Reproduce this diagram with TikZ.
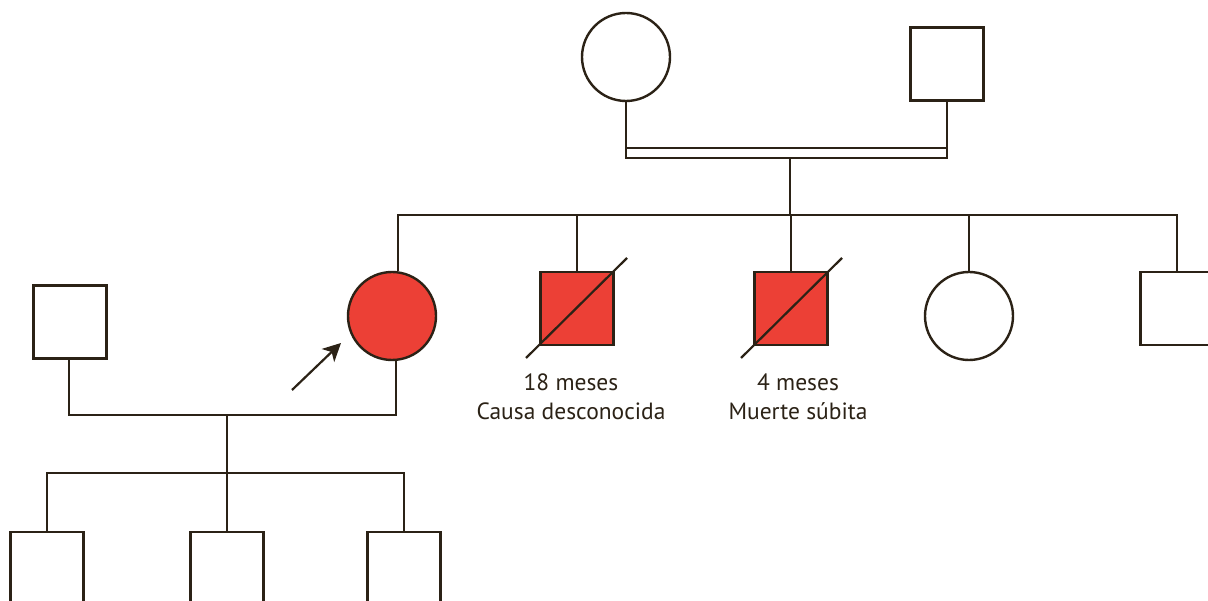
\documentclass[tikz,border=0pt]{standalone}
\usepackage{fontspec}
\setmainfont{PT Sans}
\usetikzlibrary{arrows.meta}
\definecolor{ink}{RGB}{43,34,22}
\definecolor{aff}{RGB}{236,64,54}
\begin{document}
\begin{tikzpicture}[x=1pt,y=-1pt,
  line width=2.4pt, color=ink,
  fem/.style={circle, draw=ink, line width=2.4pt, minimum size=88pt, inner sep=0pt, fill=white},
  mal/.style={rectangle, draw=ink, line width=2.4pt, minimum size=73pt, inner sep=0pt, fill=white},
  affected/.style={fill=aff},
  lbl/.style={font=\fontsize{23.5}{29}\selectfont, align=center, text=ink, inner sep=0pt},
  deceased/.style={line width=2.2pt}
]
\useasboundingbox (0,0) rectangle (1208,601);
\begin{scope}
\clip (0,0) rectangle (1208,601);
% generation I
\node[fem] (gm) at (626,57) {};
\node[mal] (gf) at (947,64) {};
\coordinate (cl) at (626,148);
\coordinate (cr) at (947,158);
\draw (gm.south) -- (gm.south |- cr) -- (cr) -- (gf.south |- cl) -- (gf.south);
\draw (gm.south |- cl) -- (cr |- cl);
\coordinate (drop) at (790,158);
\coordinate (sib) at (790,215);
\draw (drop) -- (sib);
% generation II
\node[fem, affected] (pro) at (392,316) {};
\node[mal, affected] (s1) at (577,308.5) {};
\node[mal, affected] (s2) at (791,308.5) {};
\node[fem] (s3) at (969,316) {};
\node[mal] (s4) at (1177,308.5) {};
\coordinate (sl) at (398,215);
\coordinate (sr) at (1177,215);
\draw (pro.north -| sl) -- (sl) -- (sr) -- (s4.north);
\foreach \n in {s1,s2,s3} \draw (\n.north) -- (\n.north |- sib);
% deceased slashes
\coordinate (d1a) at (526,358); \coordinate (d1b) at (627,258);
\coordinate (d2a) at (741,358); \coordinate (d2b) at (842,258);
\draw[deceased] (d1a) -- (d1b);
\draw[deceased] (d2a) -- (d2b);
% labels
\node[lbl] (l1) at (571,397) {18 meses\\Causa desconocida};
\node[lbl] (l2) at (798,397) {4 meses\\Muerte súbita};
% spouse of proband
\node[mal] (sp) at (70,322) {};
\coordinate (ml) at (69,415);
\coordinate (mr) at (396,415);
\draw (sp.south -| ml) -- (ml) -- (mr) -- (pro.south -| mr);
\coordinate (d3) at (227,415);
\coordinate (c3) at (227,473);
\draw (d3) -- (c3);
% generation III
\node[mal, anchor=north] (k1) at (47,531) {};
\node[mal, anchor=north] (k2) at (227,531) {};
\node[mal, anchor=north] (k3) at (404,531) {};
\draw (k1.north) -- (k1.north |- c3) -- (k3.north |- c3) -- (k3.north);
\draw (k2.north) -- (k2.north |- c3);
% proband arrow
\coordinate (at) at (292,390);
\coordinate (ah) at (341,343);
\draw[-{Stealth[length=18pt,width=18pt,inset=5pt]}, line width=2.2pt] (at) -- (ah);
\end{scope}
\end{tikzpicture}
\end{document}
